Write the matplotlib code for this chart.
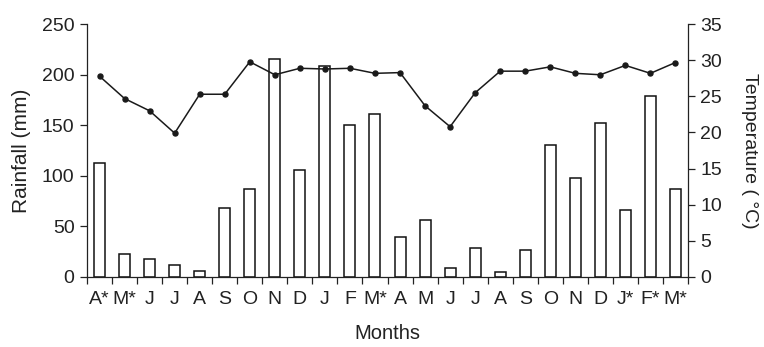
import matplotlib
matplotlib.use("Agg")
import matplotlib.pyplot as plt
import numpy as np

plt.rcParams['font.family'] = ['Liberation Sans', 'DejaVu Sans']

months = ["A*", "M*", "J", "J", "A", "S", "O", "N", "D", "J", "F", "M*",
          "A", "M", "J", "J", "A", "S", "O", "N", "D", "J*", "F*", "M*"]
rainfall = [113, 22, 18, 12, 6, 68, 87, 216, 106, 209, 150, 161,
            39, 56, 9, 28, 5, 26, 130, 98, 152, 66, 179, 87]
temperature = [27.8, 24.7, 23.0, 19.9, 25.3, 25.3, 29.8, 28.0, 28.9, 28.8, 28.9, 28.2,
               28.3, 23.7, 20.8, 25.5, 28.5, 28.5, 29.1, 28.2, 28.0, 29.3, 28.2, 29.7]
rain_ticks = [0, 50, 100, 150, 200, 250]
temp_ticks = [0, 5, 10, 15, 20, 25, 30, 35]

fig = plt.figure(figsize=(7.64, 3.47), dpi=100)
ax = fig.add_axes([0.1139, 0.2026, 0.9005 - 0.1139, 0.930 - 0.2026])
x = np.arange(len(months))
ax.bar(x, rainfall, width=0.44, color='white', edgecolor='#111111', linewidth=1.1, zorder=2)
ax.set_xlim(-0.5, len(months) - 0.5)
ax.set_ylim(0, 250)
ax.set_yticks(rain_ticks)
ax.set_xticks(x)
ax.set_xticklabels(months)
ax.set_xticks(np.arange(len(months) + 1) - 0.5, minor=True)
ax.tick_params(axis='x', which='major', length=0, pad=10, labelsize=14, colors='#222222')
ax.tick_params(axis='x', which='minor', length=5, width=0.9, direction='out', color='#222222')
ax.tick_params(axis='y', length=5, width=0.9, direction='out', labelsize=14, colors='#222222', pad=4)
ax.spines['top'].set_visible(False)
ax.spines['right'].set_visible(False)
for s in ['left', 'bottom']:
    ax.spines[s].set_linewidth(0.9)
    ax.spines[s].set_color('#222222')
ax.set_ylabel('Rainfall (mm)', fontsize=15, color='#222222', labelpad=8)
ax.set_xlabel('Months', fontsize=14.5, color='#222222', labelpad=12)

ax2 = ax.twinx()
ax2.plot(x, temperature, color='#1a1a1a', linewidth=1.1, marker='o', markersize=3.6, zorder=3)
ax2.set_ylim(0, 35)
ax2.set_yticks(temp_ticks)
ax2.tick_params(axis='y', length=5, width=0.9, direction='out', labelsize=14, colors='#222222', pad=4)
ax2.spines['top'].set_visible(False)
ax2.spines['left'].set_visible(False)
ax2.spines['bottom'].set_visible(False)
ax2.spines['right'].set_linewidth(0.9)
ax2.spines['right'].set_color('#222222')
ax2.set_ylabel('Temperature ( °C)', fontsize=14, color='#222222', rotation=270, labelpad=26)

fig.savefig('out.png', dpi=100)
